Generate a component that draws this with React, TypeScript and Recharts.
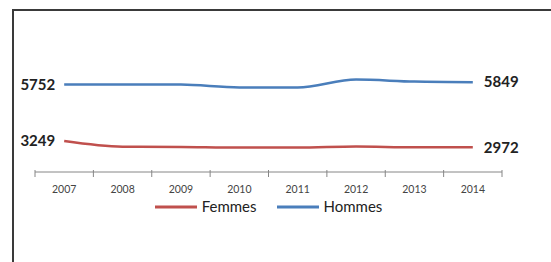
import React from 'react';
import { LineChart, Line, XAxis, YAxis, Legend, LabelList } from 'recharts';

const years = ['2007', '2008', '2009', '2010', '2011', '2012', '2013', '2014'];
const femmes = [3249, 3000, 2990, 2960, 2960, 3010, 2970, 2972];
const hommes = [5752, 5752, 5745, 5620, 5620, 5964, 5876, 5849];

const data = years.map((year, i) => ({ year, Femmes: femmes[i], Hommes: hommes[i] }));

const FONT = 'Lato, "Open Sans", sans-serif';

const YearTick = (props: any) => {
    const { x, y, payload, index, visibleTicksCount } = props;
    const half = payload && payload.offset ? payload.offset : 29;
    const axisY = y - 14;
    return (
        <g>
            <line x1={x - half} y1={axisY - 2} x2={x - half} y2={axisY + 5} stroke="#868686" />
            {index === visibleTicksCount - 1 && (
                <line x1={x + half} y1={axisY - 2} x2={x + half} y2={axisY + 5} stroke="#868686" />
            )}
            <text x={x} y={y} dy="0.71em" textAnchor="middle" fontSize={10.5} fill="#444" fontFamily={FONT}>
                {payload.value}
            </text>
        </g>
    );
};

const endLabel = (props: any) => {
    const { x, y, value, index } = props;
    if (index === 0) {
        return (
            <text x={x - 9} y={y} dy="0.35em" textAnchor="end" fontSize={15} fontWeight="bold" fill="#222" fontFamily={FONT}>
                {value}
            </text>
        );
    }
    if (index === years.length - 1) {
        return (
            <text x={x + 11} y={y} dy="0.35em" textAnchor="start" fontSize={15} fontWeight="bold" fill="#222" fontFamily={FONT}>
                {value}
            </text>
        );
    }
    return null;
};

const renderLegend = (props: any) => {
    const { payload } = props;
    return (
        <div style={{ display: 'flex', justifyContent: 'center', gap: 20, fontFamily: FONT, fontSize: 15, color: '#222', lineHeight: '15px' }}>
            {(payload || []).map((entry: any) => (
                <span key={entry.value} style={{ display: 'flex', alignItems: 'center' }}>
                    <svg width={42} height={10}>
                        <line x1={0} y1={5} x2={42} y2={5} stroke={entry.color} strokeWidth={3} />
                    </svg>
                    <span style={{ marginLeft: 5 }}>{entry.value}</span>
                </span>
            ))}
        </div>
    );
};

export default function App() {
    return (
        <div style={{ position: 'fixed', left: 0, top: 0, width: 551, height: 262, overflow: 'hidden', background: '#fff' }}>
            <div
                style={{
                    position: 'absolute',
                    left: 12,
                    top: 9,
                    width: 600,
                    height: 300,
                    borderLeft: '2px solid #3a3a3a',
                    borderTop: '2px solid #3a3a3a',
                }}
            />
            <div style={{ position: 'absolute', left: 0, top: 0 }}>
                <LineChart width={551} height={262} data={data} margin={{ top: 22, right: 49, left: 35, bottom: 54 }}>
                    <XAxis
                        dataKey="year"
                        scale="band"
                        height={21}
                        tickLine={false}
                        tickSize={0}
                        tick={<YearTick />}
                        tickMargin={14}
                        stroke="#868686"
                        interval={0}
                    />
                    <YAxis hide domain={[1880, 8510]} />
                    <Legend verticalAlign="bottom" content={renderLegend} wrapperStyle={{ top: 199 }} />
                    <Line
                        type="monotone"
                        dataKey="Femmes"
                        stroke="#c0504d"
                        strokeWidth={2.5}
                        dot={false}
                        isAnimationActive={false}
                    >
                        <LabelList dataKey="Femmes" content={endLabel} />
                    </Line>
                    <Line
                        type="monotone"
                        dataKey="Hommes"
                        stroke="#4a7ebb"
                        strokeWidth={2.5}
                        dot={false}
                        isAnimationActive={false}
                    >
                        <LabelList dataKey="Hommes" content={endLabel} />
                    </Line>
                </LineChart>
            </div>
        </div>
    );
}
